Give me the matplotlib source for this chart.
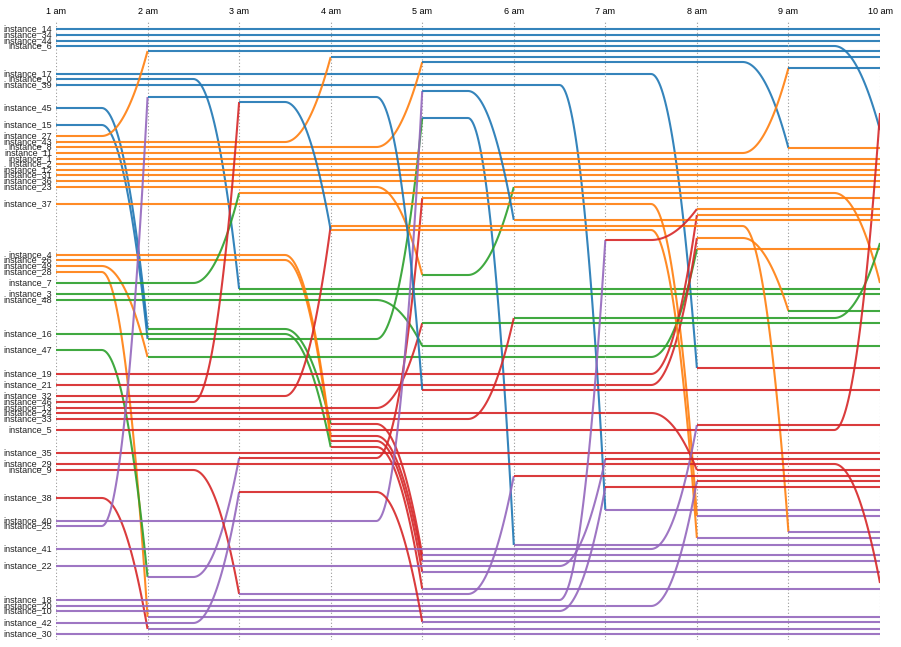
import numpy as np
import matplotlib.pyplot as plt

plt.rcParams['font.family'] = ['Liberation Sans', 'DejaVu Sans']

hours = ["1 am", "2 am", "3 am", "4 am", "5 am", "6 am", "7 am", "8 am", "9 am", "10 am"]
palette = ["#1f77b4", "#ff7f0e", "#2ca02c", "#d62728", "#9467bd"]

# instance ids, in the order of their 1 am position
names = [14, 34, 44, 6, 17, 0, 39, 45, 15,
         27, 43, 8, 11, 1, 2, 12, 31, 36, 23, 37, 4, 26, 49, 28,
         7, 3, 48, 16, 47,
         19, 21, 32, 46, 13, 24, 33, 5, 35, 29, 9, 38,
         40, 25, 41, 22, 18, 20, 10, 42, 30]

# rank value of each instance at every hour (1 am .. 10 am)
tracks = [
    [29, 29, 29, 29, 29, 29, 29, 29, 29, 29],            # 14
    [35, 35, 35, 35, 35, 35, 35, 35, 35, 35],            # 34
    [41, 41, 41, 41, 41, 41, 41, 41, 41, 41],            # 44
    [46, 46, 46, 46, 46, 46, 46, 46, 46, 130],           # 6
    [74, 74, 74, 74, 74, 74, 74, 368, 368, 368],         # 17
    [79, 79, 289, 289, 289, 289, 289, 289, 289, 289],    # 0
    [85, 85, 85, 85, 85, 85, 510, 510, 510, 510],        # 39
    [108, 329, 329, 424, 555, 555, 555, 555, 555, 555],  # 45
    [125, 339, 339, 339, 118, 545, 545, 545, 545, 545],  # 15
    [136, 51, 51, 51, 51, 51, 51, 51, 51, 51],           # 27
    [142, 142, 142, 57, 57, 57, 57, 57, 57, 57],         # 43
    [147, 147, 147, 147, 62, 62, 62, 62, 148, 148],      # 8
    [153, 153, 153, 153, 153, 153, 153, 153, 68, 68],    # 11
    [159, 159, 159, 159, 159, 159, 159, 159, 159, 159],  # 1
    [164, 164, 164, 164, 164, 164, 164, 164, 164, 164],  # 2
    [170, 170, 170, 170, 170, 170, 170, 170, 170, 170],  # 12
    [175, 175, 175, 175, 175, 175, 175, 175, 175, 175],  # 31
    [181, 181, 181, 181, 181, 181, 181, 181, 181, 181],  # 36
    [187, 187, 187, 187, 275, 187, 187, 187, 187, 187],  # 23
    [204, 204, 204, 204, 204, 204, 204, 516, 516, 516],  # 37
    [255, 255, 255, 436, 561, 561, 561, 561, 561, 561],  # 4
    [260, 260, 260, 441, 572, 572, 572, 572, 572, 572],  # 26
    [266, 357, 357, 357, 357, 357, 357, 249, 249, 249],  # 49
    [272, 617, 617, 617, 617, 617, 617, 617, 617, 617],  # 28
    [283, 283, 193, 193, 193, 193, 193, 193, 193, 283],  # 7
    [294, 294, 294, 294, 294, 294, 294, 294, 294, 294],  # 3
    [300, 300, 300, 300, 346, 346, 346, 346, 346, 346],  # 48
    [334, 334, 334, 447, 589, 589, 589, 589, 589, 589],  # 16
    [350, 577, 458, 458, 198, 198, 198, 198, 198, 198],  # 47
    [374, 374, 374, 374, 374, 374, 374, 215, 215, 215],  # 19
    [385, 385, 385, 385, 385, 385, 385, 238, 311, 311],  # 21
    [396, 396, 396, 226, 226, 226, 226, 226, 532, 532],  # 32
    [402, 402, 102, 230, 230, 230, 230, 538, 538, 538],  # 46
    [408, 408, 408, 408, 323, 323, 323, 323, 323, 323],  # 13
    [413, 413, 413, 413, 413, 413, 413, 470, 470, 470],  # 24
    [419, 419, 419, 419, 419, 318, 318, 318, 318, 243],  # 33
    [430, 430, 430, 430, 430, 430, 430, 430, 430, 113],  # 5
    [453, 453, 453, 453, 453, 453, 453, 453, 453, 453],  # 35
    [464, 464, 464, 464, 464, 464, 464, 464, 464, 583],  # 29
    [470, 470, 594, 594, 594, 476, 476, 476, 476, 476],  # 9
    [498, 629, 629, 629, 629, 629, 629, 629, 629, 629],  # 38
    [521, 521, 521, 521, 91, 220, 220, 220, 220, 220],   # 40
    [526, 97, 97, 97, 390, 390, 390, 390, 390, 390],     # 25
    [549, 549, 549, 549, 549, 549, 549, 425, 425, 425],  # 41
    [566, 566, 566, 566, 566, 566, 459, 459, 459, 459],  # 22
    [600, 600, 600, 600, 600, 600, 240, 209, 209, 209],  # 18
    [606, 606, 606, 606, 606, 606, 606, 481, 481, 481],  # 20
    [611, 611, 611, 611, 611, 611, 487, 487, 487, 487],  # 10
    [623, 623, 492, 492, 622, 622, 622, 622, 622, 622],  # 42
    [634, 634, 634, 634, 634, 634, 634, 634, 634, 634],  # 30
]

# cluster of each instance at 1 am .. 9 am (0 blue, 1 orange, 2 green, 3 red, 4 purple)
groups = [
    "000000000", "000000000", "000000000", "000000000", "000000033",
    "002222222", "000000444", "022344444", "022204444",
    "100000000", "111000000", "111100001", "111111110", "111111111",
    "111111111", "111111111", "111111111", "111111111", "111121111",
    "111111144", "111344444", "111344444", "122222211", "144444444",
    "221111111", "222222222", "222222222", "222344444", "243311111",
    "333333311", "333333312", "333111114", "330111144", "333322222",
    "333333333", "333332222", "333333333", "333333333", "333333333",
    "334443333", "344444444",
    "444401111", "400033333", "444444433", "444444333", "444444311",
    "444444433", "444444333", "443344444", "444444444",
]

fig = plt.figure(figsize=(9.01, 6.47), dpi=100)
ax = fig.add_axes([56 / 901, 1 - 640 / 647, 824 / 901, 620 / 647])
ax.set_xlim(0, len(hours) - 1)
ax.set_ylim(640, 20)

for h in range(len(hours)):
    ax.axvline(h, color="#999999", lw=0.8, ls=(0, (1, 2)), zorder=0)

t = np.linspace(0, 1, 40)
for name, ys, grp in zip(names, tracks, groups):
    for h in range(len(hours) - 1):
        y0, y1 = ys[h], ys[h + 1]
        # flat for the first half of the hour, then ease into the new rank
        xs = np.concatenate([[h], h + 0.5 + 0.5 * t])
        yy = np.concatenate([[y0], y0 + (y1 - y0) * t ** 2])
        ax.plot(xs, yy, color=palette[int(grp[h])], lw=1.5, alpha=0.9,
                solid_capstyle="butt")
    ax.text(-0.045, ys[0], "instance_%d" % name, ha="right", va="center",
            fontsize=6.5, color="#222222")

ax.set_xticks(range(len(hours)))
ax.set_xticklabels(hours, fontsize=6.5)
ax.xaxis.tick_top()
ax.tick_params(axis="x", length=0, pad=3)
ax.set_yticks([])
for s in ax.spines.values():
    s.set_visible(False)

fig.savefig("out.png", dpi=100)
